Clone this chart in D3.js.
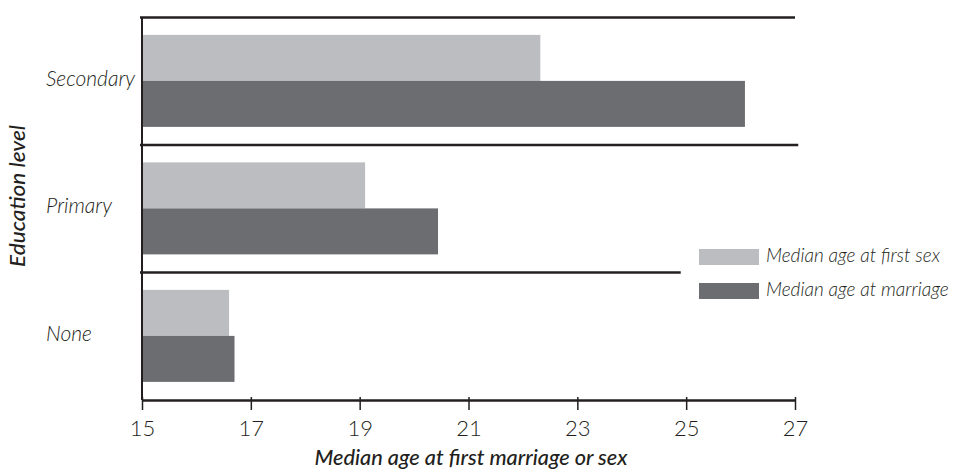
<!DOCTYPE html>
<meta charset="utf-8" />
<title>Median age at first marriage or sex</title>
<script src="https://d3js.org/d3.v7.min.js"></script>
<style>
body {
    margin: 0;
    background: #fff;
}
text {
    font-family: 'Lato', sans-serif;
    fill: #231f20;
}
.cat {
    font-style: italic;
    font-weight: 300;
    font-size: 21px;
}
.legend-label {
    font-style: italic;
    font-weight: 300;
    font-size: 19px;
}
.title {
    font-style: italic;
    font-weight: 500;
    font-size: 21px;
}
.tick text {
    font-weight: 300;
    font-size: 22px;
}
</style>
<div id="chart"></div>
<script>
// data
var levels = ["Secondary", "Primary", "None"];
var seriesNames = ["Median age at first sex", "Median age at marriage"];
var firstSex = [22.32, 19.1, 16.6];
var marriage = [26.08, 20.44, 16.7];
var xTicks = [15, 17, 19, 21, 23, 25, 27];
// right ends of the group divider lines, in years (as drawn in the original)
var dividerEnds = [27.0, 27.06, 24.9];

var colors = ["#bcbdc1", "#6c6d71"];
var width = 958, height = 470;

var svg = d3.select("#chart").append("svg")
    .attr("width", width)
    .attr("height", height);

var x = d3.scaleLinear().domain([15, 27]).range([142, 795]);

var y0 = d3.scaleBand()
    .domain(levels)
    .range([17.5, 400])
    .paddingInner(0);

var y1 = d3.scaleBand()
    .domain(seriesNames)
    .range([0, y0.bandwidth()])
    .paddingInner(0)
    .paddingOuter(0.386)
    .align(0.49);

var rows = levels.map(function(d, i) {
    return { level: d, values: [firstSex[i], marriage[i]], end: dividerEnds[i] };
});

var groups = svg.selectAll(".group")
    .data(rows)
    .enter().append("g")
    .attr("class", "group")
    .attr("transform", function(d) { return "translate(0," + y0(d.level) + ")"; });

groups.selectAll("rect")
    .data(function(d) {
        return d.values.map(function(v, j) { return { key: seriesNames[j], value: v, j: j }; });
    })
    .enter().append("rect")
    .attr("x", x(15))
    .attr("y", function(d) { return y1(d.key); })
    .attr("width", function(d) { return x(d.value) - x(15); })
    .attr("height", y1.bandwidth())
    .style("fill", function(d) { return colors[d.j]; });

// divider lines on top of each group
groups.append("line")
    .attr("x1", x(15) - 2)
    .attr("x2", function(d) { return x(d.end); })
    .attr("y1", 0)
    .attr("y2", 0)
    .style("stroke", "#231f20")
    .style("stroke-width", 2.5);

// category labels
groups.append("text")
    .attr("class", "cat")
    .attr("x", 46)
    .attr("y", y0.bandwidth() / 2 - 3)
    .attr("dy", "0.35em")
    .text(function(d) { return d.level; });

// y axis line
svg.append("line")
    .attr("x1", x(15)).attr("x2", x(15))
    .attr("y1", y0.range()[0]).attr("y2", y0.range()[1])
    .style("stroke", "#231f20")
    .style("stroke-width", 2);

// x axis
var xAxis = svg.append("g")
    .attr("transform", "translate(0," + y0.range()[1] + ")")
    .call(d3.axisBottom(x).tickValues(xTicks).tickSize(10).tickSizeOuter(0).tickPadding(10));
xAxis.select(".domain").style("stroke", "#231f20").style("stroke-width", 2.5);
xAxis.selectAll(".tick line").attr("y1", -3).style("stroke", "#231f20").style("stroke-width", 1.5);
xAxis.selectAll(".tick text").style("fill", "#231f20");

svg.append("text")
    .attr("class", "title")
    .attr("x", 471)
    .attr("y", 465)
    .attr("text-anchor", "middle")
    .attr("textLength", 313)
    .attr("lengthAdjust", "spacingAndGlyphs")
    .text("Median age at first marriage or sex");

svg.append("text")
    .attr("class", "title")
    .attr("transform", "translate(25,196) rotate(-90)")
    .attr("text-anchor", "middle")
    .attr("textLength", 142)
    .attr("lengthAdjust", "spacingAndGlyphs")
    .text("Education level");

// legend
var legend = svg.selectAll(".legend")
    .data(seriesNames)
    .enter().append("g")
    .attr("class", "legend")
    .attr("transform", function(d, i) { return "translate(699," + (249 + i * 34) + ")"; });

legend.append("rect")
    .attr("width", 60)
    .attr("height", 16)
    .style("fill", function(d, i) { return colors[i]; });

legend.append("text")
    .attr("class", "legend-label")
    .attr("x", 67)
    .attr("y", 6)
    .attr("dy", "0.35em")
    .text(function(d) { return d; });
</script>
